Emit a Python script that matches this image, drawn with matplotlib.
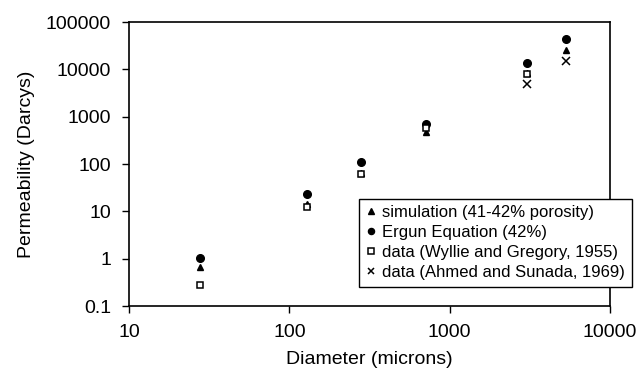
import matplotlib
matplotlib.use("Agg")
import matplotlib.pyplot as plt

plt.rcParams['font.family'] = ['Liberation Sans', 'DejaVu Sans']

# particle diameters (microns)
diam = [27.7, 129, 280, 713, 3040, 5320]

# permeability values (Darcys)
sim_perm = [0.67, 14, 66, 470, 8500, 25600]
ergun_perm = [1.05, 23, 110, 700, 13600, 43700]
wyllie_diam = [27.7, 129, 280, 713, 3040]
wyllie_perm = [0.28, 12.5, 62, 580, 7900]
ahmed_diam = [3040, 5320]
ahmed_perm = [4900, 15000]

fig = plt.figure(figsize=(6.42, 3.80), dpi=100)
ax = fig.add_axes([0.2009, 0.1947, 0.7493, 0.7474])

ax.plot(diam, sim_perm, linestyle='none', marker='^', color='black',
        markersize=5, label='simulation (41-42% porosity)')
ax.plot(diam, ergun_perm, linestyle='none', marker='o', color='black',
        markersize=5.5, label='Ergun Equation (42%)')
ax.plot(wyllie_diam, wyllie_perm, linestyle='none', marker='s', color='black',
        markerfacecolor='white', markeredgewidth=1.1, markersize=5,
        label='data (Wyllie and Gregory, 1955)')
ax.plot(ahmed_diam, ahmed_perm, linestyle='none', marker='x', color='black',
        markeredgewidth=1.1, markersize=6, label='data (Ahmed and Sunada, 1969)')

ax.set_xscale('log')
ax.set_yscale('log')
ax.set_xlim(10, 10000)
ax.set_ylim(0.1, 100000)
ax.set_xticks([10, 100, 1000, 10000])
ax.set_xticklabels(['10', '100', '1000', '10000'])
ax.set_yticks([0.1, 1, 10, 100, 1000, 10000, 100000])
ax.set_yticklabels(['0.1', '1', '10', '100', '1000', '10000', '100000'])
ax.minorticks_off()
ax.tick_params(direction='out', length=5, width=1, labelsize=14, pad=8)

for sp in ax.spines.values():
    sp.set_linewidth(1.2)
    sp.set_color('black')

ax.set_xlabel('Diameter (microns)', fontsize=14, labelpad=7)
ax.set_ylabel('Permeability (Darcys)', fontsize=14, labelpad=8)

leg = ax.legend(loc='lower left', bbox_to_anchor=(0.559, 0.245),
                bbox_transform=fig.transFigure, fontsize=12, frameon=True,
                fancybox=False, borderpad=0.4, handlelength=0.6,
                handletextpad=0.4, labelspacing=0.3, markerscale=0.8,
                borderaxespad=0)
leg.get_frame().set_edgecolor('black')
leg.get_frame().set_linewidth(1.0)
leg.get_frame().set_alpha(1)

fig.savefig('out.png', dpi=100)
